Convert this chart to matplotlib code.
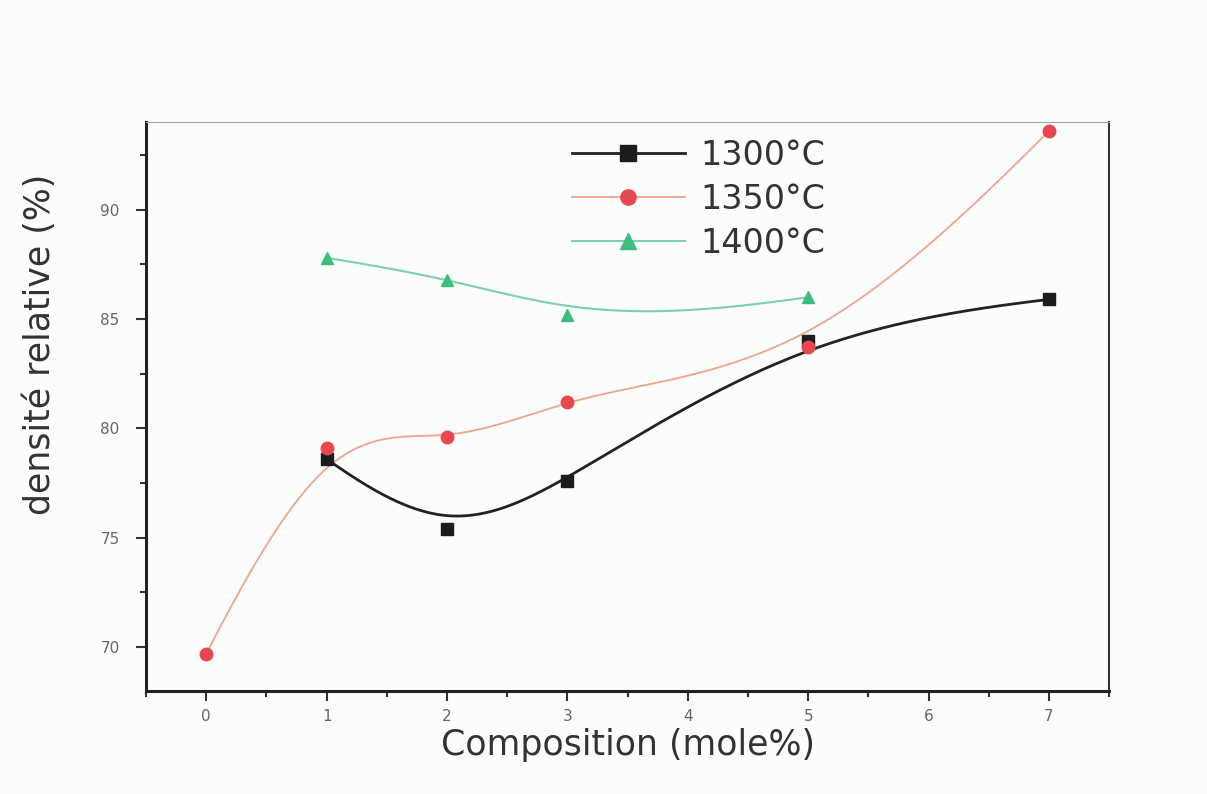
import numpy as np
import matplotlib
matplotlib.use("Agg")
import matplotlib.pyplot as plt

# data
comp_1300 = [1, 2, 3, 5, 7]
dens_1300 = [78.6, 75.4, 77.6, 84.0, 85.9]

comp_1350 = [0, 1, 2, 3, 5, 7]
dens_1350 = [69.7, 79.1, 79.6, 81.2, 83.7, 93.6]

comp_1400 = [1, 2, 3, 5]
dens_1400 = [87.8, 86.8, 85.2, 86.0]

labels = ["1300°C", "1350°C", "1400°C"]


def bspline(xs, ys, n=400, k=3):
    """clamped cubic B-spline using the points as control points"""
    P = np.column_stack([xs, ys]).astype(float)
    m = len(P)
    knots = np.concatenate([[0.0] * k, np.linspace(0, 1, m - k + 1), [1.0] * k])
    t = np.linspace(0, 1, n)
    nk = len(knots)
    B = np.zeros((n, nk - 1))
    for i in range(nk - 1):
        B[:, i] = (knots[i] <= t) & (t < knots[i + 1])
    last = np.max(np.nonzero(knots[:-1] < knots[1:]))
    B[t == knots[-1], last] = 1.0
    for p in range(1, k + 1):
        Bn = np.zeros((n, nk - 1 - p))
        for i in range(nk - 1 - p):
            d1 = knots[i + p] - knots[i]
            d2 = knots[i + p + 1] - knots[i + 1]
            a = (t - knots[i]) / d1 * B[:, i] if d1 > 0 else 0
            b = (knots[i + p + 1] - t) / d2 * B[:, i + 1] if d2 > 0 else 0
            Bn[:, i] = a + b
        B = Bn
    C = B @ P
    return C[:, 0], C[:, 1]


def natural_spline(xs, ys, xq):
    x = np.asarray(xs, float)
    y = np.asarray(ys, float)
    n = len(x)
    h = np.diff(x)
    A = np.zeros((n, n))
    r = np.zeros(n)
    A[0, 0] = A[-1, -1] = 1.0
    for i in range(1, n - 1):
        A[i, i - 1] = h[i - 1]
        A[i, i] = 2 * (h[i - 1] + h[i])
        A[i, i + 1] = h[i]
        r[i] = 6 * ((y[i + 1] - y[i]) / h[i] - (y[i] - y[i - 1]) / h[i - 1])
    M = np.linalg.solve(A, r)
    j = np.clip(np.searchsorted(x, xq) - 1, 0, n - 2)
    dx = xq - x[j]
    hj = h[j]
    a = (M[j + 1] - M[j]) / (6 * hj)
    b = M[j] / 2
    c = (y[j + 1] - y[j]) / hj - hj * (2 * M[j] + M[j + 1]) / 6
    return y[j] + c * dx + b * dx ** 2 + a * dx ** 3


def smooth_curve(xs, ys, w=0.5):
    bx, by = bspline(xs, ys)
    xq = np.linspace(xs[0], xs[-1], 400)
    yb = np.interp(xq, bx, by)
    yi = natural_spline(xs, ys, xq)
    return xq, w * yb + (1 - w) * yi


plt.rcParams['font.family'] = ['DejaVu Sans']

fig = plt.figure(figsize=(12.07, 7.94), dpi=100, facecolor='#fbfcfc')
ax = fig.add_axes([0.121, 0.130, 0.798, 0.716], facecolor='#fbfcfc')

series = [
    (comp_1300, dens_1300, '#222222', '#1c1c1c', 's', 2.0),
    (comp_1350, dens_1350, '#eea58a', '#e8474f', 'o', 1.3),
    (comp_1400, dens_1400, '#7fcfae', '#3dbd7c', '^', 1.5),
]
handles = []
for (xs, ys, lc, mc, mk, lw), lab in zip(series, labels):
    sx, sy = smooth_curve(xs, ys)
    ax.plot(sx, sy, color=lc, lw=lw, zorder=2)
    ax.plot(xs, ys, ls='none', marker=mk, ms=9, color=mc, mec=mc, zorder=3)
    h, = ax.plot([], [], color=lc, lw=lw, marker=mk, ms=11, mfc=mc, mec=mc)
    handles.append(h)

ax.set_xlim(-0.5, 7.5)
ax.set_xticks(range(0, 8))
ax.set_xticks(np.arange(-0.5, 7.6, 0.5), minor=True)
ax.set_yticks([70, 75, 80, 85, 90])
ax.set_yticks(np.arange(67.5, 94, 2.5), minor=True)
ax.set_ylim(68, 94)

ax.tick_params(which='major', direction='out', length=7, width=1.5, color='#333333',
               labelsize=11, labelcolor='#666666')
ax.tick_params(which='minor', direction='out', length=4, width=1.5, color='#333333')
ax.tick_params(axis='x', pad=6)
ax.tick_params(axis='y', pad=12)

for side in ['left', 'bottom']:
    ax.spines[side].set_linewidth(2.2)
    ax.spines[side].set_color('#222222')
ax.spines['right'].set_linewidth(1.5)
ax.spines['right'].set_color('#333333')
ax.spines['top'].set_linewidth(0.8)
ax.spines['top'].set_color('#a0a4a4')

ax.set_xlabel("Composition (mole%)", fontsize=25, color='#333333')
ax.set_ylabel("densité relative (%)", fontsize=25, color='#333333')
ax.xaxis.set_label_coords(0.5, -0.065)
ax.yaxis.set_label_coords(-0.092, 0.61)

ax.legend(handles, labels, loc='upper left', bbox_to_anchor=(0.442, 0.971),
          frameon=False, fontsize=24, handlelength=3.4, handletextpad=0.45,
          labelspacing=0.33, borderpad=0, borderaxespad=0, labelcolor='#333333')

fig.savefig("out.png", dpi=100, facecolor=fig.get_facecolor())
